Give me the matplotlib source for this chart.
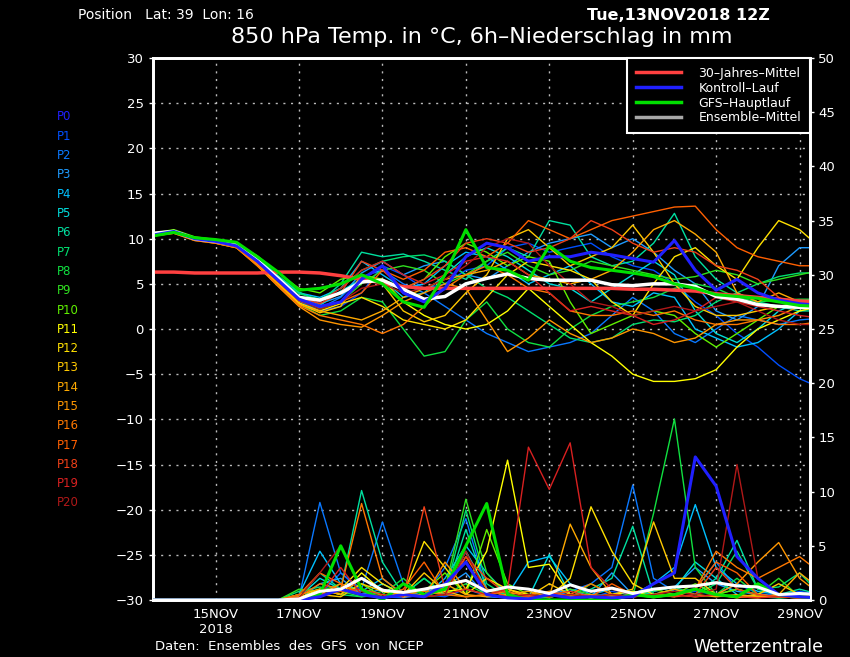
import matplotlib
matplotlib.use("Agg")
import matplotlib.pyplot as plt
from matplotlib.lines import Line2D

# hours after 13NOV2018 12Z, every 12h
hours = list(range(0, 385, 12))

tick_hours = [36, 84, 132, 180, 228, 276, 324, 372]
tick_labels = ["15NOV\n2018", "17NOV", "19NOV", "21NOV", "23NOV", "25NOV", "27NOV", "29NOV"]

member_names = ["P%d" % i for i in range(21)]
member_colors = ["#2020ff", "#0050ff", "#0a78ff", "#1e9bff", "#00c0ff", "#00dcdc",
                 "#00e0a0", "#00e070", "#10e040", "#30e020", "#60f000", "#ffff00",
                 "#ffe000", "#ffc800", "#ffaa00", "#ff9600", "#ff7800", "#ff6000",
                 "#f04018", "#d82020", "#b01818"]

# 850 hPa temperature per member (P0 = Kontroll-Lauf)
t850 = [
    [10.4, 10.8, 10.0, 9.7, 9.2, 7.5, 5.4, 3.3, 2.5, 3.0, 5.5, 7.0, 4.0, 3.0, 4.5, 8.0, 9.5, 9.0, 7.5, 8.0, 8.0, 8.5, 8.2, 7.8, 7.4, 9.8, 6.5, 4.3, 5.5, 4.0, 3.2, 2.8, 2.6],
    [10.5, 10.8, 10.0, 9.6, 9.1, 7.3, 5.2, 3.1, 2.0, 2.5, 4.0, 7.0, 6.0, 4.5, 5.0, 6.5, 7.0, 9.0, 9.5, 8.5, 9.0, 9.5, 8.0, 7.0, 6.5, 5.0, 3.0, 1.5, -0.5, -2.0, -4.0, -5.5, -6.5],
    [10.4, 10.7, 10.1, 9.7, 9.2, 7.5, 5.3, 3.2, 2.3, 3.5, 5.8, 6.5, 5.0, 4.0, 2.5, 1.0, -0.5, -1.5, -2.5, -2.0, -1.5, -0.5, 1.5, 3.5, 2.0, -0.5, -1.5, 0.0, 1.5, 1.0, 0.5, 1.0, 1.2],
    [10.5, 10.8, 10.0, 9.7, 9.3, 7.6, 5.6, 3.6, 2.8, 3.6, 6.2, 7.5, 6.0, 7.0, 7.5, 6.0, 5.5, 7.0, 8.5, 9.5, 10.0, 10.5, 9.0, 10.0, 8.5, 6.5, 5.0, 2.0, 1.0, 2.5, 7.0, 9.0, 9.0],
    [10.5, 10.9, 10.1, 9.8, 9.4, 7.8, 5.8, 4.0, 3.5, 4.5, 7.5, 6.0, 4.5, 5.0, 7.0, 8.5, 8.0, 6.5, 5.0, 6.0, 7.0, 5.0, 3.0, 2.5, 4.0, 3.5, 0.0, -1.0, -2.0, -1.5, 0.0, 2.0, 2.5],
    [10.4, 10.8, 10.0, 9.7, 9.2, 7.5, 5.5, 3.5, 2.6, 4.2, 5.5, 5.5, 3.5, 4.0, 6.0, 8.0, 9.0, 8.0, 6.5, 5.0, 4.5, 3.0, 4.5, 6.0, 7.5, 6.0, 2.0, -0.5, -1.5, 0.0, 2.0, 3.0, 3.5],
    [10.5, 10.9, 10.1, 9.8, 9.4, 7.9, 5.9, 4.1, 3.0, 5.0, 8.5, 8.0, 8.3, 7.5, 6.5, 5.5, 7.5, 9.0, 8.0, 12.0, 11.5, 8.0, 7.0, 7.5, 9.5, 12.8, 8.0, 5.5, 4.0, 3.0, 2.5, 2.0, 2.0],
    [10.5, 10.8, 10.1, 9.7, 9.3, 7.7, 5.7, 3.9, 3.3, 4.5, 6.5, 7.5, 8.0, 8.2, 7.5, 6.0, 4.5, 3.5, 2.0, 0.5, -1.0, -1.5, -1.0, 0.5, 1.0, 0.8, 1.5, 3.0, 4.0, 5.0, 5.8, 6.2, 6.2],
    [10.3, 10.7, 9.9, 9.6, 9.1, 7.2, 5.0, 2.8, 1.5, 2.0, 3.5, 3.0, 0.0, -3.0, -2.5, 1.0, 3.0, 0.0, -1.5, -2.0, 0.0, 1.5, 2.5, 3.0, 3.5, 4.5, 5.0, 4.5, 3.5, 3.0, 3.2, 3.3, 3.3],
    [10.4, 10.8, 10.0, 9.7, 9.2, 7.4, 5.3, 3.2, 2.2, 3.0, 5.0, 6.5, 7.0, 6.5, 5.0, 6.0, 7.5, 8.5, 7.0, 6.0, 6.5, 7.5, 7.0, 6.5, 6.0, 5.5, 5.8, 6.5, 6.0, 5.0, 5.5, 6.0, 6.5],
    [10.6, 11.0, 10.2, 9.9, 9.5, 8.1, 6.2, 4.5, 4.0, 5.5, 6.0, 5.5, 4.5, 5.5, 8.0, 9.5, 8.5, 7.0, 8.0, 7.5, 3.0, -0.5, 0.5, 1.5, 2.0, 1.5, -0.5, -2.0, -0.5, 1.0, 2.5, 3.0, 3.0],
    [10.4, 10.8, 10.0, 9.6, 9.2, 7.4, 5.4, 3.3, 2.5, 3.0, 5.5, 5.5, 3.0, 1.5, 0.5, 0.0, 0.5, 2.0, 4.5, 2.5, 0.5, -1.5, -3.0, -5.0, -5.8, -5.8, -5.5, -4.5, -2.0, 0.0, 1.0, 2.0, 2.5],
    [10.3, 10.7, 9.9, 9.6, 9.1, 7.3, 5.1, 2.9, 2.0, 2.8, 3.5, 2.5, 1.0, 0.5, 0.0, 1.0, 3.5, 6.0, 7.5, 7.0, 6.5, 5.5, 3.0, 1.5, 5.0, 8.0, 9.0, 7.0, 5.5, 9.0, 12.0, 11.0, 9.0],
    [10.3, 10.7, 9.9, 9.6, 9.1, 7.2, 5.0, 2.8, 1.8, 2.5, 6.0, 5.0, 2.0, 0.8, 1.5, 4.0, 6.0, 10.0, 11.0, 9.0, 7.0, 8.0, 9.0, 11.5, 8.5, 5.0, 2.5, 1.5, 1.5, 2.0, 2.5, 2.8, 3.0],
    [10.4, 10.7, 9.9, 9.5, 9.0, 7.1, 4.9, 2.7, 2.0, 1.5, 1.0, 2.0, 3.5, 4.5, 5.5, 6.0, 6.5, 7.5, 6.0, 5.5, 5.0, 5.5, 6.5, 8.5, 11.0, 12.0, 10.5, 8.5, 4.0, 3.0, 4.0, 3.0, 2.8],
    [10.3, 10.6, 9.8, 9.5, 9.0, 7.0, 4.7, 2.5, 1.0, 0.5, 0.2, 1.5, 3.0, 4.0, 5.0, 4.5, 1.0, -2.5, -1.0, 1.0, -0.5, -1.5, -1.0, 0.0, -0.5, -1.5, -1.0, 0.5, 1.0, 1.0, 1.5, 2.5, 2.5],
    [10.3, 10.6, 9.8, 9.5, 9.0, 7.0, 4.8, 2.6, 1.5, 1.0, 0.5, -0.5, 0.5, 2.5, 4.5, 6.0, 7.0, 6.0, 4.5, 4.0, 2.0, 1.5, 1.5, 2.0, 1.5, 2.0, 1.0, 0.5, 0.5, 1.0, 0.5, 0.5, 0.8],
    [10.4, 10.7, 10.0, 9.6, 9.1, 7.3, 5.2, 3.1, 2.5, 3.0, 4.0, 6.5, 5.5, 6.5, 8.5, 9.0, 8.0, 9.5, 12.0, 11.0, 10.0, 11.0, 12.0, 12.5, 13.0, 13.5, 13.6, 11.0, 9.0, 8.0, 7.5, 7.0, 7.0],
    [10.5, 10.8, 10.0, 9.7, 9.2, 7.5, 5.5, 3.5, 2.8, 4.0, 7.5, 6.5, 4.5, 5.5, 7.0, 9.5, 10.0, 9.5, 8.5, 9.0, 10.0, 12.0, 11.0, 9.5, 8.5, 9.0, 8.5, 7.0, 6.5, 5.5, 3.5, 2.5, 2.5],
    [10.5, 10.8, 10.0, 9.7, 9.3, 7.6, 5.6, 3.6, 3.0, 4.5, 6.5, 7.5, 6.0, 5.0, 6.0, 7.5, 8.0, 7.5, 6.0, 4.0, 2.0, 2.5, 2.0, 1.5, 0.5, 1.0, 2.0, 3.5, 3.0, 2.5, 2.0, 1.5, 1.2],
    [10.4, 10.7, 10.0, 9.6, 9.2, 7.4, 5.3, 3.2, 2.2, 3.0, 4.5, 5.0, 4.0, 4.5, 5.5, 7.0, 9.0, 10.0, 9.5, 7.0, 5.0, 3.0, 2.5, 1.5, 2.0, 2.5, 2.0, 2.5, 3.0, 2.0, 1.0, 0.5, 0.5],
]

gfs_t850 = [10.3, 10.7, 10.1, 9.9, 9.6, 8.0, 6.3, 4.3, 4.5, 5.0, 6.0, 5.0, 3.0, 2.4, 6.0, 11.0, 6.8, 6.5, 5.4, 9.2, 7.5, 6.8, 6.5, 6.2, 5.8, 5.0, 4.5, 3.8, 3.6, 3.4, 3.0, 2.6, 2.5]
mean_t850 = [10.6, 10.8, 10.0, 9.7, 9.3, 7.6, 5.6, 3.5, 3.2, 4.0, 5.2, 5.4, 4.4, 3.3, 3.6, 5.0, 5.6, 6.1, 5.6, 5.4, 5.4, 5.4, 4.9, 4.8, 5.0, 5.0, 4.7, 3.6, 3.3, 2.7, 2.5, 2.4, 2.4]
clim_t850 = [6.3, 6.3, 6.2, 6.2, 6.2, 6.2, 6.3, 6.3, 6.2, 5.9, 5.5, 5.1, 4.7, 4.5, 4.5, 4.5, 4.5, 4.5, 4.5, 4.5, 4.5, 4.5, 4.5, 4.4, 4.4, 4.3, 4.2, 3.9, 3.7, 3.5, 3.3, 3.1, 3.0]

# 6h precipitation per member, mm
precip = [
    [0, 0, 0, 0, 0, 0, 0, 0, 0.3, 1.0, 0.5, 0.2, 0.5, 0.3, 1.5, 3.5, 0.5, 0.2, 0.1, 0.5, 0.2, 0.3, 0.2, 0.3, 1.5, 2.5, 13.2, 10.5, 4.0, 2.0, 0.5, 0.3, 0.2],
    [0, 0, 0, 0, 0, 0, 0, 0, 0.5, 2.5, 0.8, 0.3, 0.2, 0.5, 0.3, 1.0, 0.4, 0.2, 0.0, 0.3, 0.5, 0.2, 0.8, 0.4, 0.3, 0.5, 0.8, 0.5, 1.5, 0.6, 0.4, 0.8, 0.5],
    [0, 0, 0, 0, 0, 0, 0, 0.2, 9.0, 2.5, 1.0, 7.2, 1.5, 0.5, 3.0, 7.5, 1.0, 0.5, 0.3, 0.2, 0.8, 1.5, 3.0, 10.6, 2.0, 0.8, 1.0, 3.5, 1.0, 0.5, 0.3, 0.2, 0.1],
    [0, 0, 0, 0, 0, 0, 0, 0.0, 1.5, 2.0, 0.5, 1.0, 0.3, 0.8, 1.2, 2.5, 0.3, 0.2, 0.2, 0.5, 1.0, 0.3, 2.5, 0.5, 0.8, 1.2, 3.0, 1.5, 0.8, 0.5, 0.3, 0.5, 0.3],
    [0, 0, 0, 0, 0, 0, 0, 0.5, 4.5, 1.5, 0.8, 2.0, 0.5, 0.3, 2.0, 5.0, 2.5, 0.5, 3.5, 4.0, 1.5, 0.5, 1.0, 0.5, 1.5, 3.0, 8.8, 3.0, 1.5, 0.8, 0.5, 0.3, 0.2],
    [0, 0, 0, 0, 0, 0, 0, 0.3, 2.0, 1.0, 0.5, 1.5, 0.5, 0.8, 0.5, 4.5, 1.0, 0.3, 0.2, 4.2, 0.5, 0.3, 0.5, 0.8, 0.5, 1.0, 3.5, 2.0, 0.5, 0.3, 0.2, 0.3, 0.5],
    [0, 0, 0, 0, 0, 0, 0, 0.2, 2.5, 1.0, 10.1, 3.5, 0.5, 2.0, 0.5, 6.5, 1.0, 0.5, 0.2, 0.5, 0.3, 1.0, 2.0, 6.8, 0.5, 1.0, 0.5, 2.0, 5.5, 1.0, 0.5, 1.0, 0.5],
    [0, 0, 0, 0, 0, 0, 0, 0.8, 1.2, 0.5, 0.3, 0.8, 0.5, 2.0, 0.5, 8.3, 1.5, 0.3, 0.2, 0.3, 0.5, 0.2, 0.5, 0.3, 0.8, 1.2, 0.5, 1.5, 4.5, 1.0, 1.2, 2.5, 0.5],
    [0, 0, 0, 0, 0, 0, 0, 0.2, 0.5, 0.8, 0.3, 0.5, 2.0, 0.3, 0.5, 1.5, 0.5, 0.2, 0.1, 0.5, 0.2, 1.5, 0.5, 0.3, 8.0, 16.7, 3.0, 0.5, 2.0, 0.5, 0.2, 0.3, 0.2],
    [0, 0, 0, 0, 0, 0, 0, 1.0, 0.8, 1.5, 0.5, 0.2, 0.5, 0.3, 1.0, 9.3, 2.5, 0.3, 0.5, 0.2, 1.0, 0.5, 0.3, 0.5, 0.2, 0.5, 1.0, 0.5, 1.0, 0.5, 2.0, 0.3, 0.2],
    [0, 0, 0, 0, 0, 0, 0, 0.5, 1.0, 0.5, 1.5, 0.3, 0.5, 0.8, 2.5, 0.5, 6.5, 1.5, 0.5, 0.3, 0.5, 0.2, 0.5, 0.3, 1.0, 0.5, 1.5, 0.5, 1.0, 0.5, 0.3, 0.5, 0.2],
    [0, 0, 0, 0, 0, 0, 0, 0.2, 1.0, 0.5, 2.5, 0.8, 0.3, 0.5, 0.8, 1.0, 4.5, 12.9, 3.0, 3.3, 0.5, 0.2, 0.5, 0.8, 0.3, 0.5, 0.3, 0.5, 0.2, 0.5, 0.3, 0.2, 0.2],
    [0, 0, 0, 0, 0, 0, 0, 0.0, 0.8, 1.0, 3.0, 1.5, 0.5, 5.4, 3.0, 0.5, 2.0, 1.0, 0.5, 0.3, 2.0, 8.6, 4.5, 1.5, 0.5, 0.3, 1.0, 0.5, 0.3, 0.2, 0.5, 0.3, 0.2],
    [0, 0, 0, 0, 0, 0, 0, 0.3, 0.5, 0.3, 1.5, 0.8, 0.5, 2.5, 0.8, 0.3, 0.5, 1.0, 0.3, 1.5, 0.5, 0.3, 0.5, 1.0, 7.2, 2.0, 2.0, 0.5, 0.3, 0.5, 1.5, 0.5, 0.3],
    [0, 0, 0, 0, 0, 0, 0, 0.5, 1.0, 0.5, 2.0, 1.0, 0.3, 0.5, 1.5, 0.5, 0.3, 0.5, 0.8, 0.3, 7.0, 3.0, 0.5, 0.3, 0.5, 1.0, 0.5, 0.3, 0.5, 0.3, 0.5, 2.5, 1.0],
    [0, 0, 0, 0, 0, 0, 0, 0.2, 0.5, 1.5, 0.5, 0.3, 0.5, 0.3, 3.5, 1.0, 0.5, 0.3, 0.5, 0.8, 0.3, 0.5, 0.3, 0.5, 0.3, 0.5, 1.0, 0.5, 1.5, 3.5, 5.3, 2.0, 0.5],
    [0, 0, 0, 0, 0, 0, 0, 0.3, 1.5, 1.0, 8.9, 2.0, 0.5, 0.8, 0.5, 0.3, 0.5, 0.8, 0.3, 0.5, 0.5, 1.5, 0.5, 0.3, 0.5, 0.5, 1.0, 4.5, 3.0, 2.0, 3.0, 4.0, 2.5],
    [0, 0, 0, 0, 0, 0, 0, 0.5, 2.5, 1.5, 0.5, 0.3, 1.0, 3.5, 0.5, 4.0, 1.0, 0.3, 0.5, 0.3, 0.5, 0.3, 1.5, 0.5, 0.3, 0.5, 1.0, 3.5, 2.5, 0.5, 0.3, 0.2, 0.3],
    [0, 0, 0, 0, 0, 0, 0, 0.2, 0.5, 0.8, 1.0, 0.5, 0.3, 8.6, 1.0, 4.0, 2.0, 0.5, 0.3, 0.5, 0.8, 0.3, 0.5, 0.3, 0.5, 0.3, 0.5, 3.0, 1.0, 0.5, 0.3, 0.5, 0.3],
    [0, 0, 0, 0, 0, 0, 0, 0.0, 0.5, 3.0, 0.5, 0.3, 0.5, 0.3, 0.5, 1.0, 0.5, 1.0, 14.1, 10.2, 14.5, 3.0, 1.0, 0.5, 0.3, 0.5, 0.3, 0.5, 0.3, 0.2, 0.3, 0.2, 0.1],
    [0, 0, 0, 0, 0, 0, 0, 0.2, 2.5, 5.0, 0.8, 0.3, 0.5, 0.3, 0.5, 4.5, 0.5, 0.3, 0.5, 0.3, 0.5, 0.3, 0.5, 0.3, 0.5, 0.8, 0.5, 1.0, 12.5, 2.0, 0.5, 0.3, 0.2],
]

gfs_precip = [0, 0, 0, 0, 0, 0, 0, 0.0, 0.5, 5.0, 1.0, 0.0, 1.5, 0.5, 1.0, 5.0, 8.9, 0.5, 0.0, 0.0, 0.0, 0.0, 0.0, 0.5, 0.3, 0.5, 1.0, 0.5, 0.3, 1.5, 0.5, 0.3, 0.2]
mean_precip = [0, 0, 0, 0, 0, 0, 0, 0.1, 0.8, 1.0, 2.0, 0.9, 0.7, 1.0, 1.4, 1.8, 0.8, 1.2, 1.0, 0.6, 1.4, 0.8, 1.1, 0.6, 1.0, 1.2, 1.3, 1.6, 1.3, 1.2, 0.5, 0.6, 0.5]

clim_color = "#ff4040"
ctrl_color = "#2020ff"
gfs_color = "#00e000"

fig = plt.figure(figsize=(8.5, 6.57), dpi=100, facecolor="black")
ax = fig.add_axes([153 / 850, 57 / 657, 657 / 850, 542 / 657])
ax.set_facecolor("black")
ax2 = ax.twinx()

# temperature, left axis
for i in range(1, 21):
    ax.plot(hours, t850[i], color=member_colors[i], lw=1, zorder=2)
ax.plot(hours, clim_t850, color=clim_color, lw=2.5, zorder=4)
ax.plot(hours, mean_t850, color="white", lw=2.5, zorder=4)
ax.plot(hours, t850[0], color=ctrl_color, lw=2.2, zorder=5)
ax.plot(hours, gfs_t850, color=gfs_color, lw=2.2, zorder=5)

# precipitation, right axis
for i in range(1, 21):
    ax2.plot(hours, precip[i], color=member_colors[i], lw=1, zorder=2)
ax2.plot(hours, gfs_precip, color=gfs_color, lw=2.2, zorder=3)
ax2.plot(hours, precip[0], color=ctrl_color, lw=2.2, zorder=3)
ax2.plot(hours, mean_precip, color="white", lw=2.2, zorder=4)

ax.set_xlim(0, 378)
ax.set_ylim(-30, 30)
ax2.set_ylim(0, 50)

ax.set_yticks(range(-30, 31, 5))
ax2.set_yticks(range(0, 51, 5))
ax.set_xticks(tick_hours)
ax.set_xticklabels(tick_labels)

ax.grid(True, color="#bbbbbb", linestyle=(0, (1.5, 4)), linewidth=1)
ax.set_axisbelow(True)

for a in (ax, ax2):
    for s in a.spines.values():
        s.set_color("white")
        s.set_linewidth(2)
    a.tick_params(colors="white", labelcolor="white", labelsize=9.5, length=3, width=1)
ax.tick_params(axis="x", length=0, pad=6)
ax2.tick_params(axis="y", pad=3)

# legend
handles = [Line2D([], [], color=clim_color, lw=2.5),
           Line2D([], [], color=ctrl_color, lw=2.5),
           Line2D([], [], color=gfs_color, lw=2.5),
           Line2D([], [], color="#a8a8a8", lw=2.5)]
leg = ax2.legend(handles, ["30\u2013Jahres\u2013Mittel", "Kontroll\u2013Lauf", "GFS\u2013Hauptlauf", "Ensemble\u2013Mittel"],
                 loc="upper right", borderaxespad=0, frameon=True, fancybox=False,
                 facecolor="black", edgecolor="white", framealpha=1, fontsize=9,
                 handlelength=3.6, handletextpad=1.4, labelspacing=0.15, borderpad=0.7)
for t in leg.get_texts():
    t.set_color("white")
leg.get_frame().set_linewidth(1.5)
leg.set_zorder(10)

# member labels
for i, name in enumerate(member_names):
    fig.text(57 / 850, 1 - (117 + i * 19.3) / 657, name, color=member_colors[i],
             fontsize=8.5, ha="left", va="center")

fig.text(78 / 850, 1 - 15 / 657, "Position   Lat: 39  Lon: 16", color="white",
         fontsize=10, ha="left", va="center")
fig.text(770 / 850, 1 - 15 / 657, "Tue,13NOV2018 12Z", color="white",
         fontsize=11.5, fontweight="bold", ha="right", va="center")
fig.text(482 / 850, 1 - 37 / 657, "850 hPa Temp. in \u00b0C, 6h\u2013Niederschlag in mm",
         color="white", fontsize=16, ha="center", va="center")
fig.text(155 / 850, 1 - 646 / 657, "Daten:  Ensembles  des  GFS  von  NCEP", color="white",
         fontsize=9.5, ha="left", va="center")
fig.text(823 / 850, 1 - 647 / 657, "Wetterzentrale", color="white",
         fontsize=12.5, ha="right", va="center")

fig.savefig("out.png", dpi=100, facecolor="black")
